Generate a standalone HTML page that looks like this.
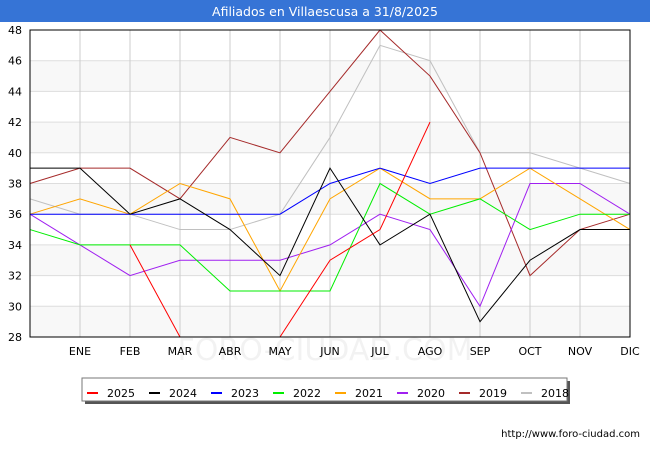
<!DOCTYPE html>
<html><head><meta charset="utf-8"><style>
body{margin:0;background:#fff;font-family:"DejaVu Sans","Liberation Sans",sans-serif;}
#wrap{position:relative;width:650px;height:450px;overflow:hidden;}
</style></head><body>
<div id="wrap">
<svg id="svg" width="650" height="450" xmlns="http://www.w3.org/2000/svg">
<rect x="0" y="0" width="650" height="22" fill="#3674d6"/>
<text x="325" y="16" text-anchor="middle" fill="#fff" font-size="12.5">Afiliados en Villaescusa a 31/8/2025</text>
<g id="grid"></g><g id="lines"></g><g id="axes"></g>
<text x="325" y="360" text-anchor="middle" font-size="30" fill="#000" fill-opacity="0.05">FORO-CIUDAD.COM</text>
<g id="legend"></g>
<text x="640" y="437" text-anchor="end" font-size="10" fill="#000">http://www.foro-ciudad.com</text>
</svg>
</div>
<script>
const months=["","ENE","FEB","MAR","ABR","MAY","JUN","JUL","AGO","SEP","OCT","NOV","DIC"];
const yTicks=[28,30,32,34,36,38,40,42,44,46,48];
const years=["2025","2024","2023","2022","2021","2020","2019","2018"];
const colors=["#ff0000","#000000","#0000ff","#00ee00","#ffa500","#a020f0","#a52a2a","#c0c0c0"];
const s2025=[null,null,34,28,null,28,33,35,42,null,null,null,null];
const s2024=[39,39,36,37,35,32,39,34,36,29,33,35,35];
const s2023=[36,36,36,36,36,36,38,39,38,39,39,39,39];
const s2022=[35,34,34,34,31,31,31,38,36,37,35,36,36];
const s2021=[36,37,36,38,37,31,37,39,37,37,39,37,35];
const s2020=[36,34,32,33,33,33,34,36,35,30,38,38,36];
const s2019=[38,39,39,37,41,40,44,48,45,40,32,35,36];
const s2018=[37,36,36,35,35,36,41,47,46,40,40,39,38];
const series=[s2025,s2024,s2023,s2022,s2021,s2020,s2019,s2018];
const NS="http://www.w3.org/2000/svg";
const L=30,R=630,T=30,B=337,yMin=28,yMax=48;
const xs=i=>L+(R-L)*i/(months.length-1);
const ys=v=>B-(v-yMin)/(yMax-yMin)*(B-T);
function mk(t,a,p){const e=document.createElementNS(NS,t);for(const k in a)e.setAttribute(k,a[k]);p.appendChild(e);return e;}
const grid=document.getElementById('grid'),axes=document.getElementById('axes'),lines=document.getElementById('lines'),leg=document.getElementById('legend');
for(let k=0;k<yTicks.length-1;k++){ if(k%2===0){const r=mk('rect',{x:L,y:ys(yTicks[k+1]),width:R-L,height:ys(yTicks[k])-ys(yTicks[k+1]),fill:'#f8f8f8'},grid);

}}
yTicks.forEach(v=>{const l=mk('line',{x1:L,x2:R,y1:ys(v),y2:ys(v),stroke:'#dddddd','stroke-width':1},grid);


const t=mk('text',{x:L-8,y:ys(v)+4,'text-anchor':'end','font-size':11,fill:'#000'},axes);t.textContent=v;

});
months.forEach((m,i)=>{if(i===0)return;const l=mk('line',{x1:xs(i),x2:xs(i),y1:T,y2:B,stroke:'#cccccc','stroke-width':1},grid);


const t=mk('text',{x:xs(i),y:B+18,'text-anchor':'middle','font-size':11,fill:'#000'},axes);t.textContent=m;

});
const fr=mk('rect',{x:L,y:T,width:R-L,height:B-T,fill:'none',stroke:'#000','stroke-width':1},axes);


for(let s=series.length-1;s>=0;s--){let d='',pen=false;series[s].forEach((v,i)=>{if(v===null){pen=false;return;}d+=(pen?'L':'M')+xs(i)+','+ys(v)+' ';pen=true;});
const p=mk('path',{d:d,fill:'none',stroke:colors[s],'stroke-width':1},lines);

}
const sh=mk('rect',{x:85,y:381,width:485,height:23,fill:'#555'},leg);


const bx=mk('rect',{x:82,y:378,width:485,height:23,fill:'#fff',stroke:'#777','stroke-width':1},leg);


years.forEach((y,i)=>{const x0=87+i*62;const g=mk('g',{},leg);


mk('line',{x1:x0,x2:x0+11,y1:393,y2:393,stroke:colors[i],'stroke-width':2},g);
const t=mk('text',{x:x0+20,y:397,'font-size':11,fill:'#000'},g);t.textContent=y;});
</script>
</body></html>
